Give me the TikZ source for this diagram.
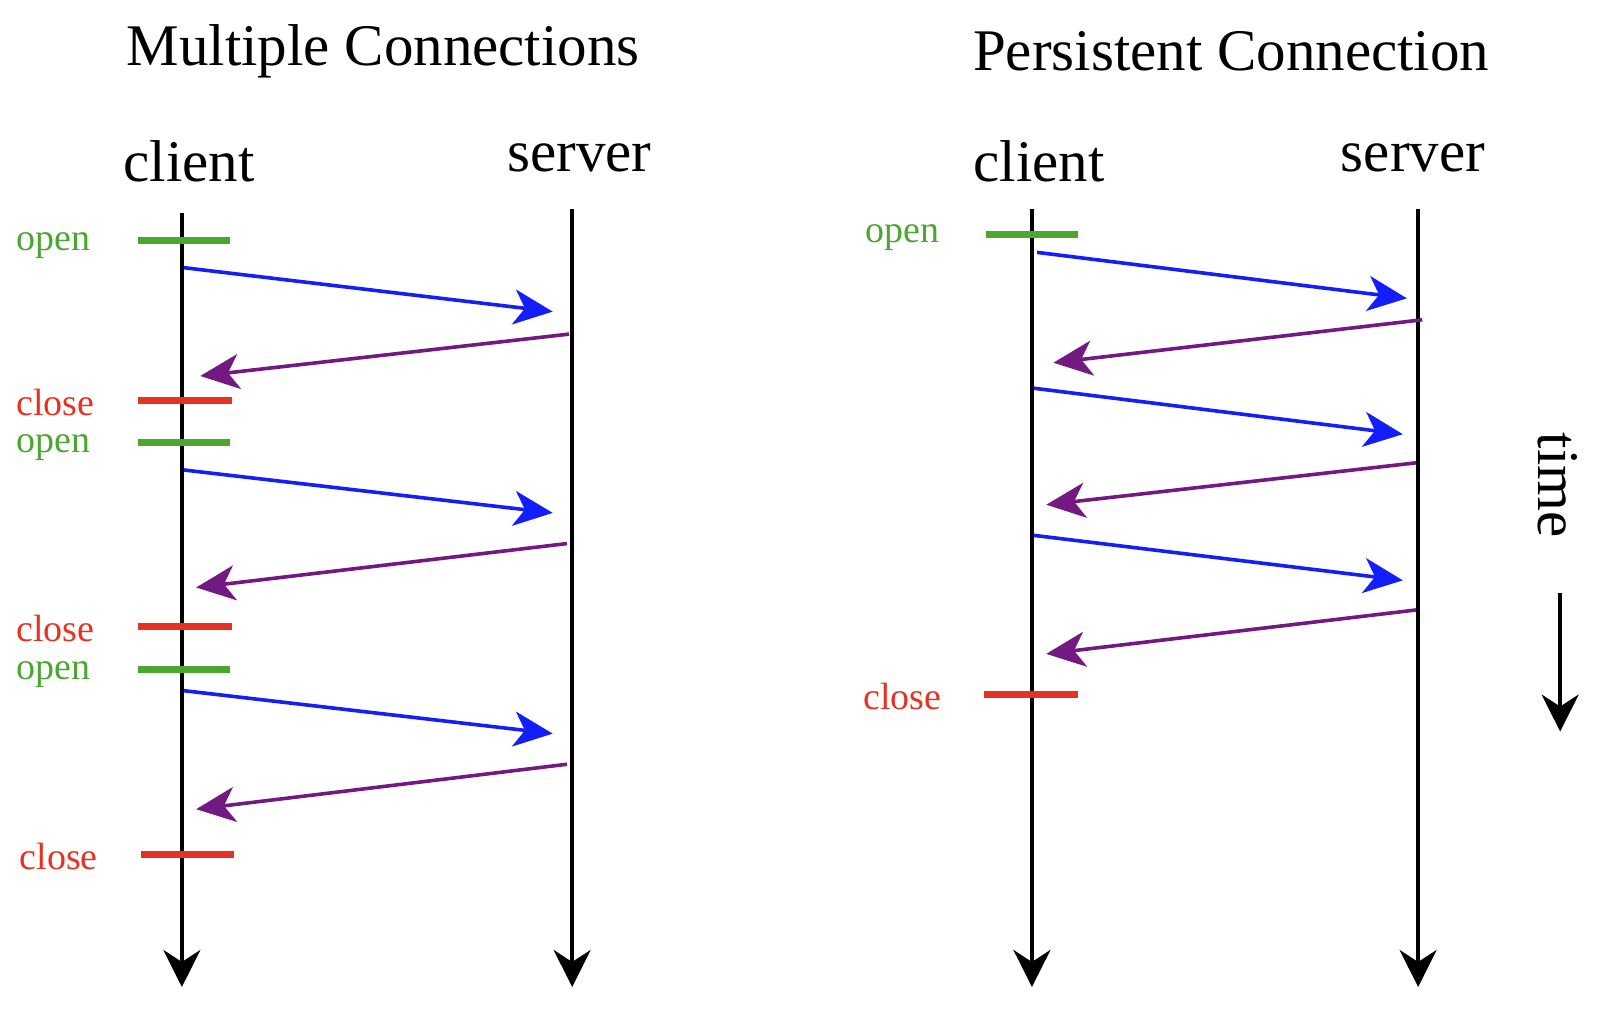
\documentclass[tikz,border=0pt]{standalone}
\usepackage{fontspec}
\setmainfont{Liberation Serif}
\usetikzlibrary{arrows.meta}
\definecolor{og}{RGB}{76,166,50}
\definecolor{cr}{RGB}{230,50,35}
\definecolor{rq}{RGB}{20,30,250}
\definecolor{rs}{RGB}{115,25,130}
\begin{document}
\begin{tikzpicture}[x=1.0217pt,y=-1.0217pt,
 life/.style={line width=3.8pt,-{Stealth[length=37pt,width=37pt,inset=12pt]}},
 msg/.style={line width=3.6pt,-{Stealth[length=39pt,width=35pt,inset=11pt]}},
 req/.style={msg,rq}, rsp/.style={msg,rs},
 bar/.style={line width=7pt},
 ob/.style={bar,og}, cb/.style={bar,cr},
 lbl/.style={font=\fontsize{38}{40}\selectfont,anchor=west,inner sep=0},
 hd/.style={font=\fontsize{59}{62}\selectfont,inner sep=0},
 ttl/.style={font=\fontsize{59}{62}\selectfont,inner sep=0}]
\useasboundingbox (0,0) rectangle (1566,994);
\node[ttl] (t1) at (375,50) {Multiple Connections};
\node[ttl] (t2) at (1205,50) {Persistent Connection};
\node[hd] (c1) at (185,158) {client};
\node[hd] (s1) at (567,155) {server};
\node[hd] (c2) at (1017,158) {client};
\node[hd] (s2) at (1383,155) {server};
% lifelines
\coordinate (c1a) at (178,208); \coordinate (c1b) at (178,966);
\coordinate (s1a) at (560,205); \coordinate (s1b) at (560,966);
\coordinate (c2a) at (1010,205); \coordinate (c2b) at (1010,966);
\coordinate (s2a) at (1388,205); \coordinate (s2b) at (1388,966);
\draw[life] (c1a) -- (c1b);
\draw[life] (s1a) -- (s1b);
\draw[life] (c2a) -- (c2b);
\draw[life] (s2a) -- (s2b);
% bars left
\coordinate (b1a) at (135,235); \coordinate (b1b) at (225,235);
\coordinate (b2a) at (135,392); \coordinate (b2b) at (227,392);
\coordinate (b3a) at (135,433); \coordinate (b3b) at (225,433);
\coordinate (b4a) at (135,613); \coordinate (b4b) at (227,613);
\coordinate (b5a) at (135,655); \coordinate (b5b) at (225,655);
\coordinate (b6a) at (138,836); \coordinate (b6b) at (229,836);
\draw[ob] (b1a) -- (b1b); \draw[cb] (b2a) -- (b2b);
\draw[ob] (b3a) -- (b3b); \draw[cb] (b4a) -- (b4b);
\draw[ob] (b5a) -- (b5b); \draw[cb] (b6a) -- (b6b);
\node[lbl,og] (l1) at (16,240) {open};
\node[lbl,cr] (l2) at (16,394) {close};
\node[lbl,og] (l3) at (16,438) {open};
\node[lbl,cr] (l4) at (16,615) {close};
\node[lbl,og] (l5) at (16,660) {open};
\node[lbl,cr] (l6) at (19,838) {close};
% bars right
\coordinate (r1a) at (965,230); \coordinate (r1b) at (1055,230);
\coordinate (r2a) at (963,680); \coordinate (r2b) at (1055,680);
\draw[ob] (r1a) -- (r1b); \draw[cb] (r2a) -- (r2b);
\node[lbl,og] (l7) at (847,233) {open};
\node[lbl,cr] (l8) at (845,682) {close};
% messages left
\coordinate (m1a) at (180,262); \coordinate (m1b) at (541,305);
\coordinate (m2a) at (557,327); \coordinate (m2b) at (196,368);
\coordinate (m3a) at (180,460); \coordinate (m3b) at (541,502);
\coordinate (m4a) at (555,532); \coordinate (m4b) at (192,575);
\coordinate (m5a) at (180,676); \coordinate (m5b) at (541,718);
\coordinate (m6a) at (555,748); \coordinate (m6b) at (192,792);
\draw[req] (m1a) -- (m1b); \draw[rsp] (m2a) -- (m2b);
\draw[req] (m3a) -- (m3b); \draw[rsp] (m4a) -- (m4b);
\draw[req] (m5a) -- (m5b); \draw[rsp] (m6a) -- (m6b);
% messages right
\coordinate (n1a) at (1015,247); \coordinate (n1b) at (1377,292);
\coordinate (n2a) at (1392,313); \coordinate (n2b) at (1031,355);
\coordinate (n3a) at (1012,380); \coordinate (n3b) at (1373,425);
\coordinate (n4a) at (1386,453); \coordinate (n4b) at (1024,494);
\coordinate (n5a) at (1012,524); \coordinate (n5b) at (1373,568);
\coordinate (n6a) at (1386,597); \coordinate (n6b) at (1024,640);
\draw[req] (n1a) -- (n1b); \draw[rsp] (n2a) -- (n2b);
\draw[req] (n3a) -- (n3b); \draw[rsp] (n4a) -- (n4b);
\draw[req] (n5a) -- (n5b); \draw[rsp] (n6a) -- (n6b);
% time
\node[hd,rotate=-90] (tm) at (1525,475) {time};
\coordinate (ta) at (1527,580); \coordinate (tb) at (1527,716);
\draw[life] (ta) -- (tb);
\end{tikzpicture}
\end{document}
